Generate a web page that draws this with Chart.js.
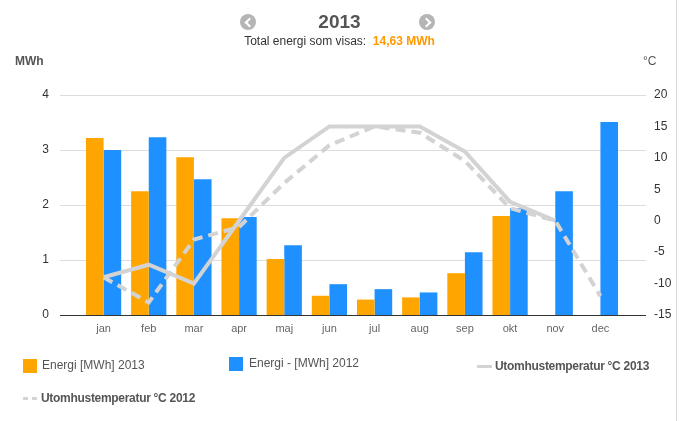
<!DOCTYPE html>
<html>
<head>
<meta charset="utf-8">
<script src="https://cdn.jsdelivr.net/npm/chart.js@4/dist/chart.umd.min.js"></script>
<style>
  html, body { margin:0; padding:0; background:#fff; }
  body { width:679px; height:421px; position:relative; overflow:hidden; font-family:"Liberation Sans", Arial, sans-serif; }
  #c { position:absolute; left:0; top:0; }
  .abs { position:absolute; white-space:nowrap; }
  .arrow { position:absolute; width:16px; height:16px; border-radius:50%; background:#b5b5b5; }
  .arrow::after { content:""; position:absolute; top:5px; width:5px; height:5px; border-top:2px solid #fff; border-left:2px solid #fff; }
  .arrow.l::after { left:6px; transform:rotate(-45deg); }
  .arrow.r::after { left:4px; transform:rotate(135deg); }
  .sw { position:absolute; }
  .lg { position:absolute; font-size:12px; color:#555; white-space:nowrap; }
  .lg.b { font-weight:bold; letter-spacing:-0.3px; }
  #edge { position:absolute; left:676px; top:0; width:1px; height:421px; background:#d8d8d8; }
</style>
</head>
<body>
<canvas id="c" width="679" height="421"></canvas>

<div class="arrow l" style="left:240px; top:14px;"></div>
<div class="arrow r" style="left:419px; top:14px;"></div>
<div class="abs" style="left:0; width:679px; top:11px; text-align:center; font-size:19px; font-weight:bold; color:#555;">2013</div>
<div class="abs" style="left:0; width:679px; top:34px; text-align:center; font-size:12px; color:#333;">Total energi som visas:&nbsp; <span style="color:#FF9900; font-weight:bold;">14,63 MWh</span></div>
<div class="abs" style="left:15px; top:54px; font-size:12px; font-weight:bold; color:#555;">MWh</div>
<div class="abs" style="left:643px; top:54px; font-size:12px; color:#555;">°C</div>

<div class="sw" style="left:23px; top:359px; width:14px; height:14px; background:#FFA500;"></div>
<div class="lg" style="left:42px; top:358px;">Energi [MWh] 2013</div>
<div class="sw" style="left:229px; top:357px; width:14px; height:14px; background:#1E90FF;"></div>
<div class="lg" style="left:249px; top:356px;">Energi - [MWh] 2012</div>
<div class="sw" style="left:477px; top:365px; width:15px; height:3px; background:#d3d3d3;"></div>
<div class="lg b" style="left:495px; top:359px;">Utomhustemperatur °C 2013</div>
<div class="sw" style="left:23px; top:397px; width:5px; height:3px; background:#d3d3d3;"></div>
<div class="sw" style="left:32px; top:397px; width:5px; height:3px; background:#d3d3d3;"></div>
<div class="lg b" style="left:41px; top:391px;">Utomhustemperatur °C 2012</div>
<div id="edge"></div>

<script>
const months = ['jan','feb','mar','apr','maj','jun','jul','aug','sep','okt','nov','dec'];
const energy2013 = [3.22, 2.25, 2.87, 1.76, 1.02, 0.35, 0.28, 0.32, 0.76, 1.80, null, null];
const energy2012 = [3.00, 3.23, 2.47, 1.78, 1.27, 0.56, 0.47, 0.41, 1.14, 1.94, 2.25, 3.51];
const temp2013 = [-9, -7, -10, 0, 10, 15, 15, 15, 11, 3, 0, null];
const temp2012 = [-9, -13, -3, -1, 6, 12, 15, 14, 9.5, 2, 0, -12];
const mwhTicks = [0, 1, 2, 3, 4];
const tempTicks = [-15, -10, -5, 0, 5, 10, 15, 20];

const extGrid = {
  id: 'extGrid',
  beforeDatasetsDraw(chart) {
    const ctx = chart.ctx, y = chart.scales.y, a = chart.chartArea;
    ctx.save();
    ctx.strokeStyle = '#dcdcdc';
    ctx.lineWidth = 1;
    y.ticks.forEach(t => {
      if (t.value === 0) return;
      const py = Math.round(y.getPixelForValue(t.value)) + 0.5;
      ctx.beginPath(); ctx.moveTo(a.left - 21, py); ctx.lineTo(a.right + 23, py); ctx.stroke();
    });
    ctx.restore();
  },
  afterDatasetsDraw(chart) {
    const ctx = chart.ctx, y = chart.scales.y, a = chart.chartArea;
    const py = Math.round(y.getPixelForValue(0)) + 0.5;
    ctx.save();
    ctx.strokeStyle = '#333';
    ctx.lineWidth = 1;
    ctx.beginPath(); ctx.moveTo(a.left - 21, py); ctx.lineTo(a.right + 23, py); ctx.stroke();
    ctx.restore();
  }
};

new Chart(document.getElementById('c'), {
  data: {
    labels: months,
    datasets: [
      { type:'line', label:'Utomhustemperatur °C 2013', data: temp2013, yAxisID:'y1', borderColor:'#d3d3d3', borderWidth:4, pointRadius:0, tension:0, fill:false, order:0 },
      { type:'line', label:'Utomhustemperatur °C 2012', data: temp2012, yAxisID:'y1', borderColor:'#d3d3d3', borderWidth:4, borderDash:[10,6], pointRadius:0, tension:0, fill:false, order:0 },
      { type:'bar', label:'Energi [MWh] 2013', data: energy2013, yAxisID:'y', backgroundColor:'#FFA500', categoryPercentage:0.78, barPercentage:1.0, order:1 },
      { type:'bar', label:'Energi - [MWh] 2012', data: energy2012, yAxisID:'y', backgroundColor:'#1E90FF', categoryPercentage:0.78, barPercentage:1.0, order:1 }
    ]
  },
  options: {
    responsive:false,
    animation:false,
    layout: { padding: { top:95, left:0, right:0, bottom:0 } },
    plugins: { legend:{ display:false }, tooltip:{ enabled:false } },
    scales: {
      x: {
        grid:{ display:false, drawTicks:false },
        border:{ display:false },
        ticks:{ color:'#666', font:{ family:'Liberation Sans', size:11 }, padding:7, maxRotation:0 },
        afterFit(s){ s.height = 106; }
      },
      y: {
        position:'left', min:0, max:4,
        afterBuildTicks(s){ s.ticks = mwhTicks.map(v => ({ value:v })); },
        grid:{ display:false, drawTicks:false },
        border:{ display:false },
        ticks:{ color:'#333', font:{ family:'Liberation Sans', size:12 }, padding:32 },
        afterFit(s){ s.width = 81; }
      },
      y1: {
        position:'right', min:-15, max:20,
        afterBuildTicks(s){ s.ticks = tempTicks.map(v => ({ value:v })); },
        grid:{ display:false, drawTicks:false },
        border:{ display:false },
        ticks:{ color:'#333', font:{ family:'"Liberation Sans Narrow", "Liberation Sans"', size:12 }, padding:31 },
        afterFit(s){ s.width = 56; }
      }
    }
  },
  plugins: [extGrid]
});
</script>
</body>
</html>
